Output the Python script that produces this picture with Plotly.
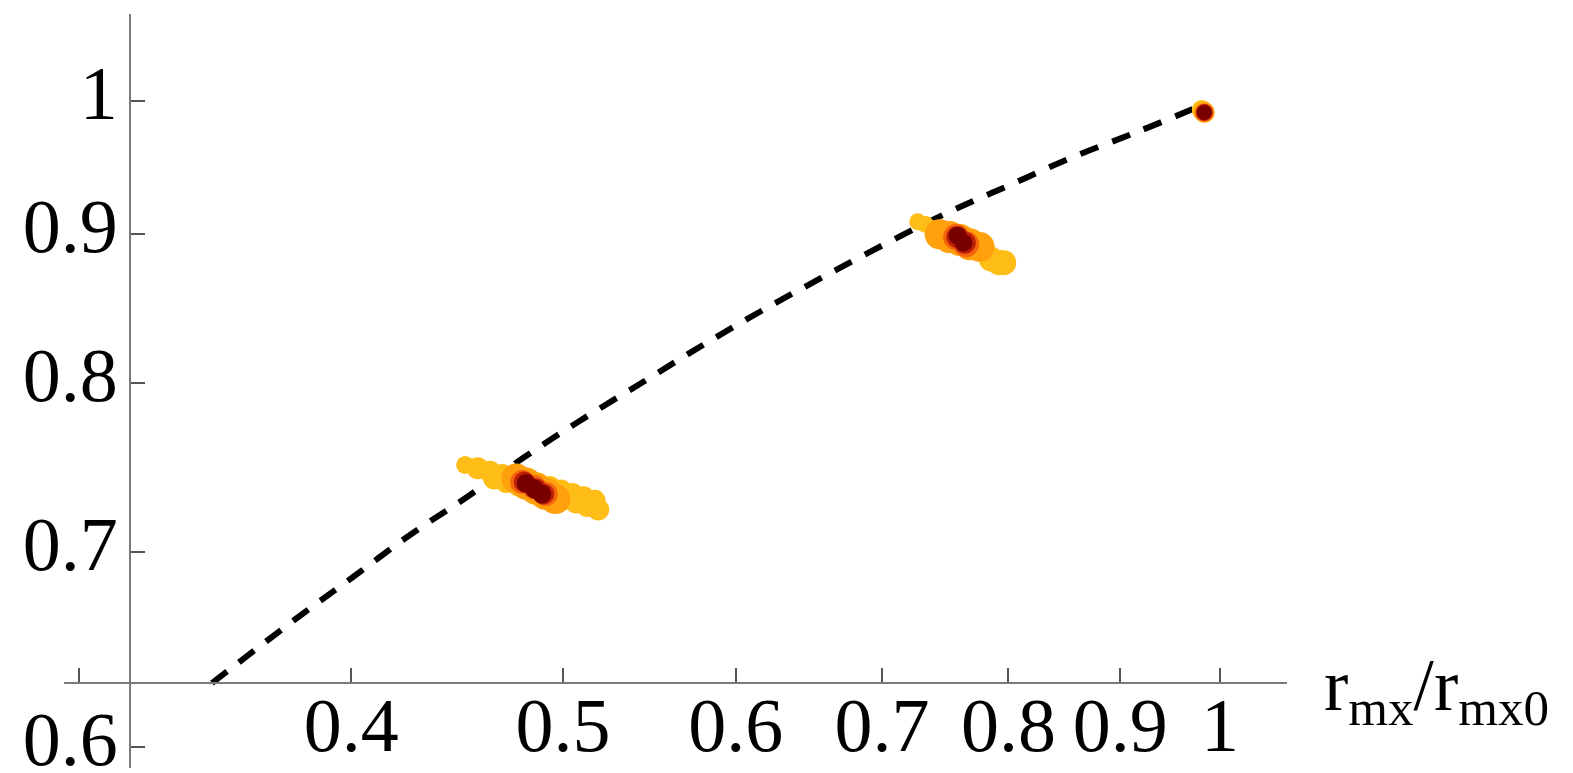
import math
import plotly.graph_objects as go

# ---- data ----
curve_x = [0.3453, 0.3777, 0.4007, 0.4255, 0.4519, 0.4794, 0.5080, 0.5441, 0.5796,
           0.6175, 0.6578, 0.7023, 0.7498, 0.8013, 0.8563, 0.9162, 0.9719]
curve_y = [0.6312, 0.6645, 0.6864, 0.7096, 0.7312, 0.7541, 0.7759, 0.8008, 0.8246,
           0.8477, 0.8701, 0.8931, 0.9153, 0.9358, 0.9567, 0.9758, 0.9937]

# cluster points, layered from widest (yellow) to core (dark red)
yellow_x = [0.451, 0.457, 0.463, 0.469, 0.475, 0.481, 0.487, 0.493, 0.499, 0.505, 0.511, 0.517,
            0.465, 0.471, 0.477, 0.483, 0.489, 0.495, 0.501, 0.507, 0.513, 0.519,
            0.727, 0.733, 0.739, 0.745, 0.751, 0.757, 0.763, 0.769, 0.775, 0.781, 0.787, 0.793,
            0.785, 0.792, 0.796,
            0.981]
yellow_y = [0.750, 0.748, 0.746, 0.744, 0.742, 0.740, 0.739, 0.737, 0.735, 0.733, 0.731, 0.729,
            0.742, 0.740, 0.738, 0.736, 0.734, 0.732, 0.730, 0.728, 0.726, 0.724,
            0.909, 0.907, 0.904, 0.902, 0.900, 0.897, 0.895, 0.892, 0.890, 0.888, 0.885, 0.883,
            0.882, 0.880, 0.880,
            0.993]

orange_x = [0.476, 0.481, 0.486, 0.491, 0.496, 0.744, 0.752, 0.760, 0.768, 0.776, 0.9835]
orange_y = [0.742, 0.739, 0.736, 0.733, 0.730, 0.900, 0.898, 0.896, 0.893, 0.891, 0.991]

orred_x = [0.479, 0.485, 0.491, 0.757, 0.765, 0.9835]
orred_y = [0.740, 0.737, 0.733, 0.898, 0.893, 0.991]

red_x = [0.480, 0.486, 0.490, 0.758, 0.764, 0.9835]
red_y = [0.740, 0.736, 0.733, 0.898, 0.894, 0.991]

dark_x = [0.481, 0.485, 0.489, 0.758, 0.763, 0.9835]
dark_y = [0.739, 0.736, 0.733, 0.899, 0.894, 0.991]

x_ticks = [0.3, 0.4, 0.5, 0.6, 0.7, 0.8, 0.9, 1.0]
x_ticktext = ["", "0.4", "0.5", "0.6", "0.7", "0.8", "0.9", "1"]
y_ticks = [0.6, 0.7, 0.8, 0.9, 1.0]
y_ticktext = ["0.6", "0.7", "0.8", "0.9", "1"]

x_range = [0.2954, 1.0732]
y_range = [0.5902, 1.0712]
x_axis_cross = 0.6312   # y value where the horizontal axis sits
y_axis_cross = 0.3167   # x value where the vertical axis sits

FONT = "Liberation Serif, Times New Roman, serif"

fig = go.Figure()
fig.add_trace(go.Scatter(x=curve_x, y=curve_y, mode="lines",
                         line=dict(color="black", width=6, dash="19px,15px", shape="spline"),
                         hoverinfo="skip", showlegend=False))

yellow_sizes = [18] + [22] * 11 + [22] * 10 + [17] * 12 + [23, 25, 25] + [20]
layers = [
    (yellow_x, yellow_y, "#FFBD17", yellow_sizes),
    (orange_x, orange_y, "#FFA00C", [30, 32, 32, 32, 30, 30, 32, 32, 32, 30, 21]),
    (orred_x, orred_y, "#F2650C", [24, 24, 24, 26, 26, 18]),
    (red_x, red_y, "#C0200A", [21, 21, 21, 22, 22, 17]),
    (dark_x, dark_y, "#7A0000", [19, 19, 19, 18, 18, 15]),
]
for lx, ly, col, sz in layers:
    fig.add_trace(go.Scatter(x=lx, y=ly, mode="markers",
                             marker=dict(color=col, size=sz, opacity=1, line=dict(width=0)),
                             hoverinfo="skip", showlegend=False))

W, H = 1573, 773
ml, mr, mt, mb = 64, 286, 14, 5
pw = W - ml - mr
ph = H - mt - mb

def frac(v, r):
    return (math.log10(v) - math.log10(r[0])) / (math.log10(r[1]) - math.log10(r[0]))

fig.update_layout(
    width=W, height=H,
    margin=dict(l=ml, r=mr, t=mt, b=mb, pad=0, autoexpand=False),
    plot_bgcolor="white", paper_bgcolor="white",
    font=dict(family=FONT, color="black"),
    xaxis=dict(type="log", range=[math.log10(x_range[0]), math.log10(x_range[1])],
               anchor="free", position=frac(x_axis_cross, y_range), automargin=False,
               showgrid=False, zeroline=False, showline=True,
               linecolor="#7a7a7a", linewidth=2,
               ticks="inside", ticklen=14, tickwidth=1.5, tickcolor="#555555",
               tickvals=x_ticks, ticktext=x_ticktext,
               tickfont=dict(family=FONT, size=76, color="black"),
               ticklabelstandoff=-24, ticklabeloverflow="allow"),
    yaxis=dict(type="log", range=[math.log10(y_range[0]), math.log10(y_range[1])],
               anchor="free", position=frac(y_axis_cross, x_range), automargin=False,
               showgrid=False, zeroline=False, showline=True,
               linecolor="#7a7a7a", linewidth=2,
               ticks="inside", ticklen=14, tickwidth=1.5, tickcolor="#555555",
               tickvals=y_ticks, ticktext=y_ticktext,
               tickfont=dict(family=FONT, size=76, color="black"),
               ticklabelstandoff=-4, ticklabelshift=-9, ticklabeloverflow="allow"),
)

fig.add_annotation(xref="paper", yref="paper",
                   x=(1322 - ml) / pw, y=(H - mb - 690) / ph,
                   xanchor="left", yanchor="middle", showarrow=False,
                   text="r<sub>mx</sub>/r<sub>mx0</sub>",
                   font=dict(family=FONT, size=73, color="black"))

fig.write_html("out.html")
